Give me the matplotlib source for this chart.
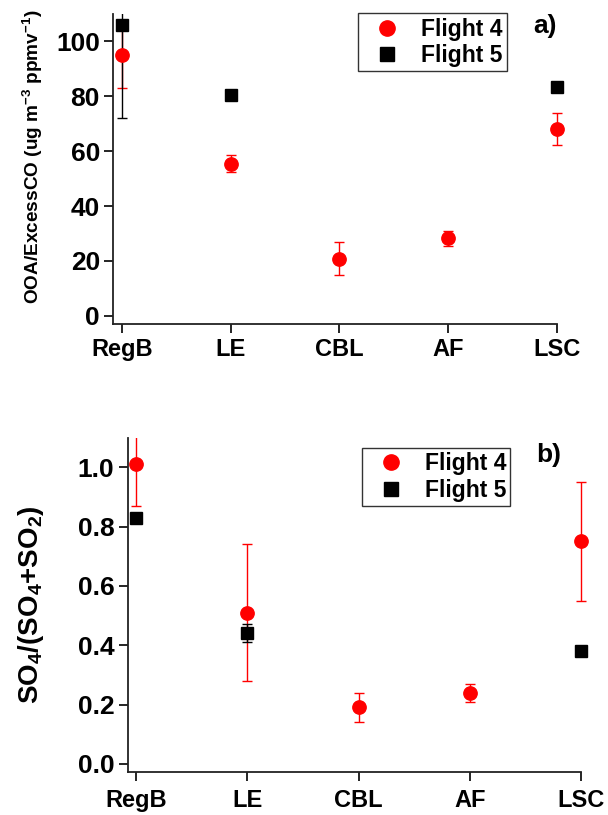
import numpy as np
import matplotlib
matplotlib.use('Agg')
import matplotlib.pyplot as plt
from matplotlib.lines import Line2D

plt.rcParams['font.family'] = ['Liberation Sans', 'DejaVu Sans']
plt.rcParams['font.weight'] = 'bold'
plt.rcParams['mathtext.fontset'] = 'custom'
plt.rcParams['mathtext.rm'] = 'Liberation Sans:bold'
plt.rcParams['mathtext.default'] = 'rm'

# 类别
cats = ['RegB', 'LE', 'CBL', 'AF', 'LSC']

# a) OOA/ExcessCO
ooa_f4 = [95, 55.5, 20.7, 28.2, 68]
ooa_f4_err = [12, 3, 6, 2.8, 5.8]
ooa_f5 = [106, 80.5, np.nan, np.nan, 83.5]
ooa_f5_err = [34, 0, 0, 0, 0]

# b) SO4/(SO4+SO2)
so4_f4 = [1.01, 0.51, 0.19, 0.24, 0.75]
so4_f4_err = [0.14, 0.23, 0.05, 0.03, 0.2]
so4_f5 = [0.83, 0.44, np.nan, np.nan, 0.38]
so4_f5_err = [0, 0.03, 0, 0, 0]

x = np.arange(len(cats))
XMAX = 4.12

fig = plt.figure(figsize=(6.08, 8.15), dpi=100)
xa = -0.08
xb = -0.075
ax1 = fig.add_axes([0.186, 0.6025, 0.730 * (XMAX - xa) / (4.0 - xa), 0.3803])
ax2 = fig.add_axes([0.210, 0.0530, 0.746 * (XMAX - xb) / (4.0 - xb), 0.4092])


def draw(ax, f4, f4e, f5, f5e, ylim, yticks, ylabel, ylabsize, ylabpad, tag, legpos, tagpos,
         tickfmt, xmin, xpad):
    ax.errorbar(x, f4, yerr=f4e, fmt='o', color='red', ms=9.6, ecolor='red', elinewidth=1,
                capsize=3.5, capthick=1, zorder=3)
    e5 = np.array(f5e, dtype=float)
    e5[e5 == 0] = np.nan
    ax.errorbar(x, f5, yerr=e5, fmt='s', color='black', ms=9.2, ecolor='black', elinewidth=1,
                capsize=3.5, capthick=1, zorder=3)
    ax.set_xlim(xmin, XMAX)
    ax.spines['bottom'].set_bounds(xmin, 4.0)
    ax.set_ylim(*ylim)
    ax.set_yticks(yticks)
    ax.set_yticklabels([tickfmt.format(v) for v in yticks])
    ax.set_xticks(x)
    ax.set_xticklabels(cats)
    for s in ['top', 'right']:
        ax.spines[s].set_visible(False)
    for s in ['left', 'bottom']:
        ax.spines[s].set_linewidth(1.3)
        ax.spines[s].set_color('#222222')
    ax.tick_params(axis='y', direction='out', length=6.5, width=1.2, labelsize=19, pad=3)
    ax.tick_params(axis='x', direction='out', length=6.5, width=1.2, labelsize=17, pad=xpad)
    ax.set_ylabel(ylabel, fontsize=ylabsize, fontweight='bold', labelpad=ylabpad)
    handles = [Line2D([], [], ls='none', marker='o', color='red', ms=11),
               Line2D([], [], ls='none', marker='s', color='black', ms=9.5)]
    leg = ax.legend(handles, ['Flight 4', 'Flight 5'], loc='upper left', bbox_to_anchor=legpos,
                    fontsize=16.5, frameon=True, fancybox=False, edgecolor='black',
                    handletextpad=0.39, borderpad=0.18, labelspacing=0.15, handlelength=2.18,
                    borderaxespad=0, numpoints=1)
    leg.get_frame().set_linewidth(1.0)
    ax.text(tagpos[0], tagpos[1], tag, transform=ax.transAxes, fontsize=19,
            fontweight='bold', ha='left', va='top')


draw(ax1, ooa_f4, ooa_f4_err, ooa_f5, ooa_f5_err, (-3, 110), [0, 20, 40, 60, 80, 100],
     'OOA/ExcessCO (ug m$^{-3}$ ppmv$^{-1}$)', 13.7, 7.5, 'a)', (0.536, 1.002), (0.919, 1.0),
     '{:d}', xa, 3.5)
ax1.yaxis.set_label_coords(-0.15, 0.54)
draw(ax2, so4_f4, so4_f4_err, so4_f5, so4_f5_err, (-0.027, 1.098), [0.0, 0.2, 0.4, 0.6, 0.8, 1.0],
     'SO$_4$/(SO$_4$+SO$_2$)', 20, 23, 'b)', (0.501, 0.971), (0.876, 0.985), '{:.1f}', xb, 6)

fig.savefig('out.png', dpi=100)
